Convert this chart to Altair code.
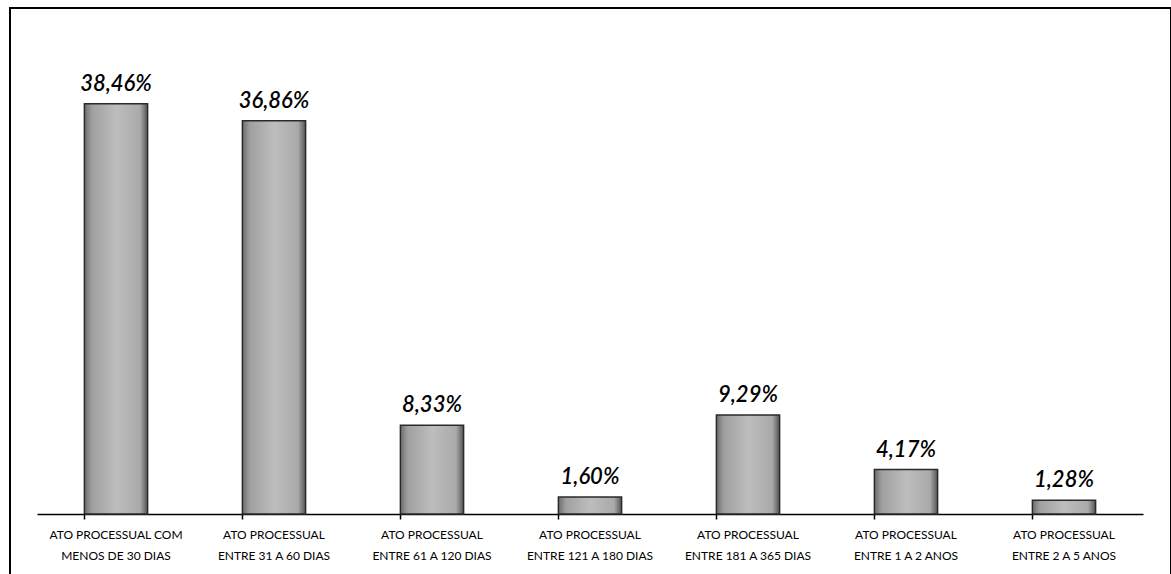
import altair as alt
import pandas as pd

categories = [
    "ATO PROCESSUAL COM\nMENOS DE 30 DIAS",
    "ATO PROCESSUAL\nENTRE 31 A 60 DIAS",
    "ATO PROCESSUAL\nENTRE 61 A 120 DIAS",
    "ATO PROCESSUAL\nENTRE 121 A 180 DIAS",
    "ATO PROCESSUAL\nENTRE 181 A 365 DIAS",
    "ATO PROCESSUAL\nENTRE 1 A 2 ANOS",
    "ATO PROCESSUAL\nENTRE 2 A 5 ANOS",
]
values = [38.46, 36.86, 8.33, 1.60, 9.29, 4.17, 1.28]

df = pd.DataFrame({"cat": categories, "v": values})

W, H = 1106, 480

x = alt.X("cat:N", sort=None, title=None,
          scale=alt.Scale(paddingInner=0.6, paddingOuter=0.3),
          axis=alt.Axis(labelExpr="split(datum.label, '\\n')", labelAngle=0,
                        labelFont="Lato", labelFontSize=12, labelColor="black",
                        labelLineHeight=21, labelPadding=10,
                        domainColor="black", domainWidth=1.5,
                        tickColor="black", tickSize=5, tickWidth=1.5, bandPosition=0,
                        grid=False))
y = alt.Y("v:Q", scale=alt.Scale(domain=[0, 45]), axis=None)

grad = alt.Gradient(gradient="linear", x1=0, x2=1, y1=0, y2=0, stops=[
    alt.GradientStop(color="#6e6e6e", offset=0),
    alt.GradientStop(color="#a0a0a0", offset=0.12),
    alt.GradientStop(color="#bdbdbd", offset=0.5),
    alt.GradientStop(color="#aaaaaa", offset=0.88),
    alt.GradientStop(color="#555555", offset=1),
])

base = alt.Chart(df)

bars = base.mark_bar(fill=grad, stroke="#2a2a2a", strokeWidth=1.5).encode(x=x, y=y)

labels = base.transform_calculate(
    lab="replace(format(datum.v, '.2f'), '.', ',') + '%'"
).mark_text(font="Lato", fontSize=22, fontStyle="italic", fontWeight=600, color="black",
            baseline="bottom", dy=-8).encode(x=x, y=y, text="lab:N")

border = alt.Chart(df).mark_rect(fill=None, stroke="black", strokeWidth=2).encode(
    x=alt.value(-27), x2=alt.value(1134), y=alt.value(-26), y2=alt.value(560)
)

chart = alt.layer(border, bars, labels).properties(
    width=W, height=H,
    autosize=alt.AutoSizeParams(type="none"),
    padding={"left": 37, "top": 34, "right": 28, "bottom": 60},
    background="white",
).configure_view(stroke=None)

chart.save("out.html", embed_options={"renderer": "svg", "actions": False})
